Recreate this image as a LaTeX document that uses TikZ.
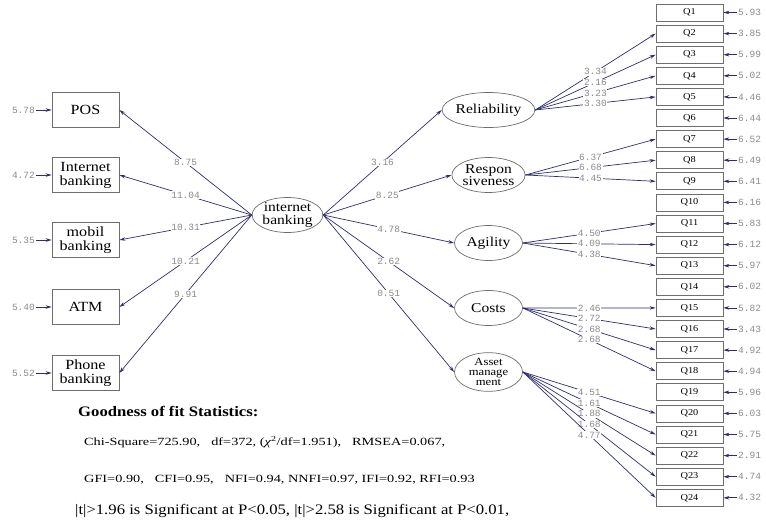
\documentclass[tikz,border=0pt]{standalone}
\usepackage{fontspec}
\setmainfont{Liberation Serif}
\newfontfamily\wserif[FakeStretch=1.15]{Liberation Serif}
\newfontfamily\xserif[FakeStretch=1.3]{Liberation Serif}
\newfontfamily\monof{Liberation Mono}
\usetikzlibrary{shapes.geometric,arrows.meta}
\definecolor{pathc}{HTML}{2E2E72}
\definecolor{labc}{HTML}{8A8A8A}
\definecolor{boxc}{HTML}{6E6E6E}
\begin{document}
\begin{tikzpicture}[x=1pt,y=-1pt,
  obs/.style={draw=boxc, line width=0.7pt, minimum width=67pt, minimum height=35pt, inner sep=0pt, align=center, font=\wserif\fontsize{14}{14}\selectfont},
  qb/.style={draw=boxc, line width=0.7pt, minimum width=67pt, minimum height=17pt, inner sep=0pt, font=\wserif\fontsize{9}{9}\selectfont},
  lat/.style={ellipse, draw=boxc, line width=0.7pt, minimum width=68pt, minimum height=35pt, inner sep=0pt, align=center, font=\wserif\fontsize{13.5}{12.5}\selectfont},
  arr/.style={draw=pathc, line width=0.7pt, -{Stealth[length=6pt,width=3.5pt]}},
  lab/.style={font=\monof\fontsize{9.5}{9.5}\selectfont, text=labc, fill=white, inner sep=0.6pt},
  err/.style={font=\monof\fontsize{9.5}{9.5}\selectfont, text=labc, inner sep=0.6pt}]
\useasboundingbox (0,0) rectangle (766,525);

% left observed
\node[obs] (pos) at (85.5,110) {POS};
\node[obs] (inb) at (85.5,175) {Internet\\banking};
\node[obs] (mob) at (85.5,240) {mobil\\banking};
\node[obs] (atm) at (85.5,307) {ATM};
\node[obs] (pho) at (85.5,373) {Phone\\banking};
\foreach \n/\v in {pos/5.78,inb/4.72,mob/5.35,atm/5.40,pho/5.52}{
  \node[err, anchor=east] (e\n) at ([xshift=-16pt]\n.west) {\v};
  \draw[arr] (e\n.east) -- (\n.west);
}

% central latent
\node[lat] (ib) at (287.5,215) {internet\\banking};
\draw[arr] (ib.west) -- node[lab]{8.75} (pos.east);
\draw[arr] (ib.west) -- node[lab]{11.04} (inb.east);
\draw[arr] (ib.west) -- node[lab]{10.31} (mob.east);
\draw[arr] (ib.west) -- node[lab]{10.21} (atm.east);
\draw[arr] (ib.west) -- node[lab]{9.91} (pho.east);

% factors
\node[lat] (rel) at (488.5,110) {Reliability};
\node[lat] (res) at (488.5,175) {Respon\\siveness};
\node[lat] (agi) at (488.5,243) {Agility};
\node[lat] (cos) at (488.5,308) {Costs};
\node[lat, font=\wserif\fontsize{11}{10}\selectfont] (ass) at (488.5,372) {Asset\\manage\\ment};
\draw[arr] (ib.east) -- node[lab]{3.16} (rel.west);
\draw[arr] (ib.east) -- node[lab]{8.25} (res.west);
\draw[arr] (ib.east) -- node[lab]{4.78} (agi.west);
\draw[arr] (ib.east) -- node[lab]{2.62} (cos.west);
\draw[arr] (ib.east) -- node[lab]{0.51} (ass.west);

% items
\foreach \i/\v in {1/5.93,2/3.85,3/5.99,4/5.02,5/4.46,6/6.44,7/6.52,8/6.49,9/6.41,10/6.16,11/5.83,12/6.12,13/5.97,14/6.02,15/5.82,16/3.43,17/4.92,18/4.94,19/5.96,20/6.03,21/5.75,22/2.91,23/4.74,24/4.32}{
  \node[qb] (q\i) at (689.5,{12.5+(\i-1)*21.1}) {Q\i};
  \node[err, anchor=west] (r\i) at ([xshift=14pt]q\i.east) {\v};
  \draw[arr] (r\i.west) -- (q\i.east);
}

\foreach \f/\q/\v in {rel/2/3.34,rel/3/2.16,rel/4/3.23,rel/5/3.30,
  res/7/6.37,res/8/6.68,res/9/4.45,
  agi/11/4.50,agi/12/4.09,agi/13/4.38,
  cos/15/2.46,cos/16/2.72,cos/17/2.68,cos/18/2.68,
  ass/20/4.51,ass/21/1.61,ass/22/1.88,ass/23/1.68,ass/24/4.77}{
  \draw[arr] (\f.east) -- node[lab]{\v} (q\q.west);
}

% statistics
\node[anchor=west, inner sep=0pt, font=\wserif\bfseries\fontsize{14.5}{14.5}\selectfont] (gof) at (78,411) {Goodness of fit Statistics:};
\node[anchor=west, inner sep=0pt, font=\xserif\fontsize{11}{11}\selectfont] (chi) at (84,442) {Chi-Square=725.90,\quad df=372, (\textit{χ}\textsuperscript{2}/df=1.951),\quad RMSEA=0.067,};
\node[anchor=west, inner sep=0pt, font=\xserif\fontsize{11}{11}\selectfont] (gfi) at (84,480) {GFI=0.90,\quad CFI=0.95,\quad NFI=0.94, NNFI=0.97, IFI=0.92, RFI=0.93};
\node[anchor=west, inner sep=0pt, font=\wserif\fontsize{14.5}{14.5}\selectfont] (tt) at (75,511) {|t|>1.96 is Significant at P<0.05, |t|>2.58 is Significant at P<0.01,};
\end{tikzpicture}
\end{document}
